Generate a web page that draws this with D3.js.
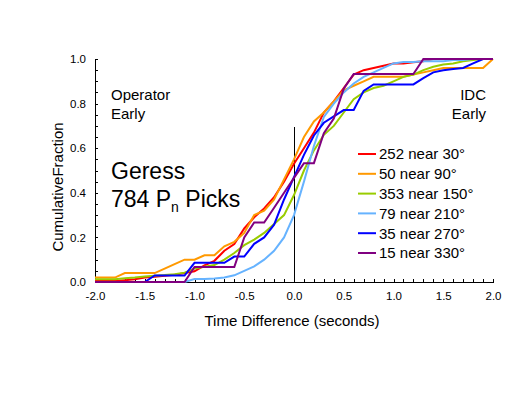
<!DOCTYPE html>
<html>
<head>
<meta charset="utf-8">
<script src="https://cdn.jsdelivr.net/npm/d3@7"></script>
<style>
  body { margin: 0; background: #fff; }
  text { font-family: "Liberation Sans", Arial, sans-serif; }
</style>
</head>
<body>
<div id="chart"></div>
<script>
// time bins (seconds), one point every 0.1 s
const bins = d3.range(41).map(i => Math.round((-2 + i * 0.1) * 10) / 10);

const red = [0.004,0.004,0.004,0.008,0.012,0.02,0.024,0.028,0.032,0.04,0.048,0.075,0.095,0.14,0.17,0.24,0.29,0.33,0.38,0.45,0.53,0.60,0.67,0.76,0.81,0.87,0.93,0.95,0.96,0.97,0.98,0.98,0.985,0.99,1,1,1,1,1,1,1];
const orange = [0.02,0.02,0.02,0.04,0.04,0.04,0.04,0.06,0.08,0.10,0.10,0.12,0.12,0.16,0.18,0.22,0.30,0.32,0.37,0.46,0.55,0.65,0.72,0.76,0.81,0.86,0.88,0.90,0.92,0.92,0.92,0.92,0.93,0.94,0.95,0.96,0.96,0.96,0.96,0.96,1];
const green = [0.012,0.012,0.012,0.017,0.02,0.025,0.028,0.031,0.035,0.042,0.06,0.068,0.076,0.10,0.13,0.165,0.19,0.22,0.26,0.30,0.39,0.50,0.59,0.66,0.70,0.76,0.82,0.85,0.87,0.88,0.90,0.92,0.93,0.95,0.965,0.975,0.98,0.99,0.995,1,1];
const lightBlue = [0,0,0,0,0,0,0,0,0,0,0.013,0.013,0.016,0.02,0.03,0.05,0.07,0.10,0.14,0.20,0.30,0.45,0.61,0.74,0.80,0.85,0.89,0.92,0.94,0.96,0.98,0.987,0.987,0.99,0.99,0.99,0.995,0.995,1,1,1];
const blue = [0,0,0,0,0,0,0.029,0.029,0.029,0.029,0.086,0.086,0.086,0.086,0.114,0.114,0.171,0.20,0.257,0.37,0.47,0.57,0.657,0.714,0.743,0.771,0.771,0.857,0.886,0.886,0.886,0.886,0.886,0.914,0.94,0.95,0.955,0.96,0.98,1,1];
const purple = [0,0,0,0,0,0,0,0,0,0,0.067,0.067,0.067,0.067,0.067,0.20,0.267,0.267,0.333,0.40,0.467,0.533,0.533,0.667,0.733,0.867,0.933,0.933,0.933,0.933,0.933,0.933,0.933,1,1,1,1,1,1,1,1];

const seriesNames = ["252 near 30°", "50 near 90°", "353 near 150°", "79 near 210°", "35 near 270°", "15 near 330°"];
const seriesColors = ["#ff0000", "#ff9900", "#99cc00", "#66b3ff", "#0000ff", "#800080"];
const seriesValues = [red, orange, green, lightBlue, blue, purple];

const xTicks = d3.range(41).map(i => Math.round((-2 + i * 0.1) * 10) / 10);
const yTicks = d3.range(21).map(i => Math.round(i * 5) / 100);

const width = 509, height = 393;

const svg = d3.select("#chart").append("svg")
  .attr("width", width)
  .attr("height", height);

const x = d3.scaleLinear().domain([-2, 2]).range([95, 493]);
const y = d3.scaleLinear().domain([0, 1]).range([282, 59]);

// x axis, ticks pointing up
svg.append("g")
  .attr("transform", `translate(0,${y(0)})`)
  .call(d3.axisBottom(x)
    .tickValues(xTicks)
    .tickSizeInner(-3)
    .tickSizeOuter(0)
    .tickPadding(10)
    .tickFormat(d => Math.abs(d * 2 - Math.round(d * 2)) < 1e-6 ? d.toFixed(1) : ""))
  .call(g => g.selectAll("text").style("font-size", "11.5px").style("font-family", "Liberation Sans, Arial, sans-serif"));

// y axis, ticks pointing right
svg.append("g")
  .attr("transform", `translate(${x(-2)},0)`)
  .call(d3.axisLeft(y)
    .tickValues(yTicks)
    .tickSizeInner(-3)
    .tickSizeOuter(0)
    .tickPadding(9)
    .tickFormat(d => Math.abs(d * 5 - Math.round(d * 5)) < 1e-6 ? d.toFixed(1) : ""))
  .call(g => g.selectAll("text").style("font-size", "11.5px").style("font-family", "Liberation Sans, Arial, sans-serif"));

svg.selectAll(".domain").attr("stroke", "#000").attr("shape-rendering", "crispEdges");
svg.selectAll(".tick line").attr("stroke", "#000").attr("shape-rendering", "crispEdges");

// zero line
svg.append("line")
  .attr("x1", x(0) + 0.5).attr("x2", x(0) + 0.5)
  .attr("y1", y(0)).attr("y2", y(0.695))
  .attr("stroke", "#000")
  .attr("stroke-width", 1)
  .attr("shape-rendering", "crispEdges");

const line = d3.line()
  .x((d, i) => x(bins[i]))
  .y(d => y(d));

seriesValues.forEach((vals, k) => {
  svg.append("path")
    .datum(vals)
    .attr("fill", "none")
    .attr("stroke", seriesColors[k])
    .attr("stroke-width", 2)
    .attr("d", line);
});

// axis titles
svg.append("text")
  .attr("x", 292)
  .attr("y", 326)
  .attr("text-anchor", "middle")
  .style("font-size", "15px")
  .text("Time Difference (seconds)");

svg.append("text")
  .attr("transform", "rotate(-90)")
  .attr("x", -187)
  .attr("y", 63)
  .attr("text-anchor", "middle")
  .style("font-size", "15px")
  .text("CumulativeFraction");

// corner notes
svg.append("text").attr("x", 111).attr("y", 100).style("font-size", "15px").text("Operator");
svg.append("text").attr("x", 111).attr("y", 119).style("font-size", "15px").text("Early");
svg.append("text").attr("x", 486).attr("y", 100).attr("text-anchor", "end").style("font-size", "15px").text("IDC");
svg.append("text").attr("x", 486).attr("y", 119).attr("text-anchor", "end").style("font-size", "15px").text("Early");

// big label
svg.append("text").attr("x", 111).attr("y", 179).style("font-size", "23px").text("Geress");
const t2 = svg.append("text").attr("x", 111).attr("y", 207).style("font-size", "23px");
t2.append("tspan").text("784 P");
t2.append("tspan").attr("dy", 5).style("font-size", "14px").text("n");
t2.append("tspan").attr("dy", -5).text(" Picks");

// legend
const legend = svg.append("g").attr("transform", "translate(358,154)");
seriesNames.forEach((name, k) => {
  const row = legend.append("g").attr("transform", `translate(0,${k * 19.8})`);
  row.append("line")
    .attr("x1", 0).attr("x2", 18)
    .attr("y1", 0).attr("y2", 0)
    .attr("stroke", seriesColors[k])
    .attr("stroke-width", 2);
  row.append("text")
    .attr("x", 21)
    .attr("y", 0)
    .attr("dy", "0.36em")
    .style("font-size", "15px")
    .text(name);
});
</script>
</body>
</html>
